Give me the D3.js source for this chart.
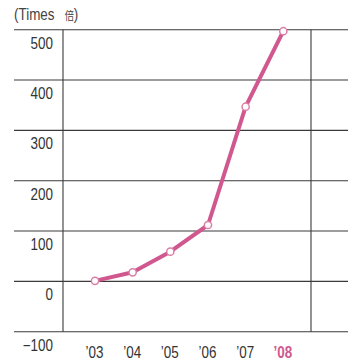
<!DOCTYPE html>
<html>
<head>
<meta charset="utf-8">
<script src="https://cdn.jsdelivr.net/npm/d3@7"></script>
<style>
  html, body { margin: 0; padding: 0; background: #fff; }
  svg { display: block; }
  text { font-family: "Liberation Sans Narrow", "Arial Narrow", "Liberation Sans", sans-serif; }
</style>
</head>
<body>
<svg id="chart" width="348" height="363"></svg>
<script>
// Growth multiple by fiscal year
const years = ["\u201903", "\u201904", "\u201905", "\u201906", "\u201907", "\u201908"];
const times = [1, 18, 59, 112, 347, 497];
const yTicks = [500, 400, 300, 200, 100, 0, -100];
const highlightYear = "\u201908";

const svg = d3.select("#chart");
const W = 348;
const plotLeft = 63, plotRight = 311;
const squeeze = 0.84; // condensed lettering

const x = d3.scalePoint().domain(years).range([95, 283.3]);
const y = d3.scaleLinear().domain([-100, 500]).range([331.7, 29.7]);

const ink = "#333";
const pink = "#d0588f";

// Horizontal gridlines spanning the full width
svg.append("g").selectAll("line")
  .data(yTicks)
  .join("line")
  .attr("x1", 14).attr("x2", W)
  .attr("y1", d => y(d)).attr("y2", d => y(d))
  .attr("stroke", "#3a3a3a")
  .attr("stroke-width", 1.1);

// Vertical frame lines
svg.append("g").selectAll("line")
  .data([plotLeft, plotRight])
  .join("line")
  .attr("x1", d => d).attr("x2", d => d)
  .attr("y1", y(500)).attr("y2", y(-100))
  .attr("stroke", "#3a3a3a")
  .attr("stroke-width", 1.1);

// Y tick labels sit just below their gridline
svg.append("g").selectAll("text")
  .data(yTicks)
  .join("text")
  .attr("transform", d => `translate(53,${y(d) + 19}) scale(${squeeze},1)`)
  .attr("text-anchor", "end")
  .attr("font-size", 16)
  .attr("fill", ink)
  .text(d => d < 0 ? "\u2212" + Math.abs(d) : d);

// Unit caption
const cap = svg.append("text")
  .attr("transform", `translate(14,20) scale(${squeeze},1)`)
  .attr("font-size", 16)
  .attr("fill", "#444");
cap.append("tspan").text("(Times");
cap.append("tspan").attr("dx", 12).attr("font-size", 11)
  .attr("font-family", "'Noto Sans CJK JP', sans-serif").text("倍");
cap.append("tspan").text(")");

// X labels
svg.append("g").selectAll("text")
  .data(years)
  .join("text")
  .attr("transform", d => `translate(${x(d) - 0.5},358) scale(${squeeze},1)`)
  .attr("text-anchor", "middle")
  .attr("font-size", 16)
  .attr("font-weight", d => d === highlightYear ? "bold" : "normal")
  .attr("fill", d => d === highlightYear ? pink : ink)
  .text(d => d);

// Line and markers
const data = years.map((yr, i) => ({ yr, v: times[i] }));
const line = d3.line().x(d => x(d.yr)).y(d => y(d.v));

svg.append("path")
  .datum(data)
  .attr("d", line)
  .attr("fill", "none")
  .attr("stroke", pink)
  .attr("stroke-width", 4)
  .attr("stroke-linejoin", "round");

svg.append("g").selectAll("circle")
  .data(data)
  .join("circle")
  .attr("cx", d => x(d.yr))
  .attr("cy", d => y(d.v))
  .attr("r", 3.6)
  .attr("fill", "#fff")
  .attr("stroke", "#dc7fa8")
  .attr("stroke-width", 1.5);
</script>
</body>
</html>
